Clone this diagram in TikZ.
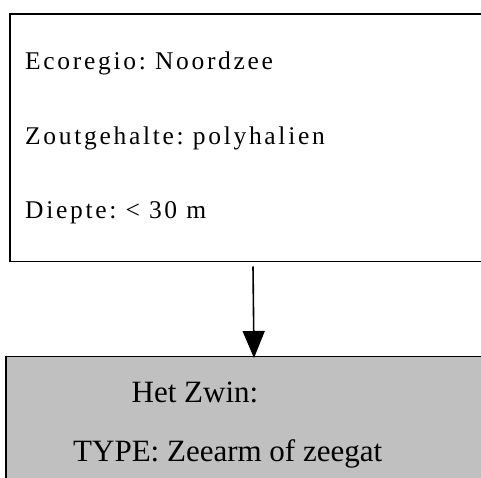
\documentclass[tikz,border=0pt]{standalone}
\usepackage{fontspec}
\setmainfont{Liberation Serif}
\usetikzlibrary{arrows.meta}
\definecolor{boxgray}{HTML}{C0C0C0}
% widely tracked lettering: a kern after every letter, a fixed gap between words
\def\trkend{\trkend}
\def\trkloop#1{\ifx#1\trkend\else#1\kern2.7pt\expandafter\trkloop\fi}
\def\trkword#1{\trkloop#1\trkend}
\def\trkwords#1 #2\trkstop{\trkword{#1}\ifx\relax#2\relax\else\hskip6.4pt\trkwords#2\trkstop\fi}
\def\trkline#1{\trkwords#1 \trkstop}
\tikzset{
  box/.style={draw=black, line width=1.6pt, rectangle, inner sep=0pt, anchor=north west},
  infotext/.style={inner sep=0pt, anchor=base west, font=\fontsize{25.5}{30}\selectfont},
  nametext/.style={inner sep=0pt, anchor=base west, font=\fontsize{31}{36}\selectfont},
  link/.style={line width=1.6pt, -{Triangle[width=22pt,length=27pt]}}
}
\begin{document}
\begin{tikzpicture}[x=1pt, y=-1pt]
  \useasboundingbox (0,0) rectangle (481,478);
  \clip (0,0) rectangle (481,478);
  % upper record: habitat properties
  \node[box, fill=white, minimum width=520pt, minimum height=247pt] (props) at (9,13.5) {};
  \node[infotext] (eco) at (25,69.5) {\trkline{Ecoregio: Noordzee}};
  \node[infotext] (zout) at (25,144.5) {\trkline{Zoutgehalte: polyhalien}};
  \node[infotext] (diep) at (25,218.5) {\trkline{Diepte: < 30 m}};
  % lower record: the area itself
  \node[box, fill=boxgray, minimum width=520pt, minimum height=160pt] (area) at (5,355.5) {};
  \node[nametext] (naam) at (131.5,402.5) {Het Zwin:};
  \node[nametext] (type) at (73,461) {TYPE: Zeearm of zeegat};
  % connector between the two records
  \coordinate (from) at (253,266.5);
  \coordinate (to) at (254,358);
  \draw[link] (from) -- (to);
\end{tikzpicture}
\end{document}
